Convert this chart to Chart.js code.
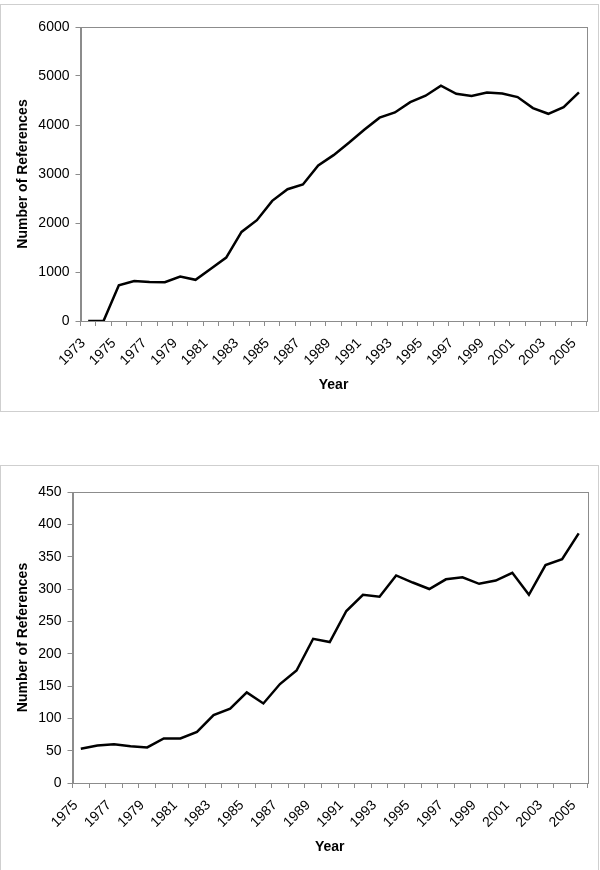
<!DOCTYPE html>
<html lang="en">
<head>
    <meta charset="UTF-8">
    <title>Number of References per Year</title>
    <script src="https://cdn.jsdelivr.net/npm/chart.js"></script>
    <style>
        body { margin: 0; background: #fff; width: 600px; height: 870px; position: relative; overflow: hidden; }
        .frame { position: absolute; left: 0; width: 597px; border: 1px solid #cfcfcf; }
        .box { position: absolute; left: 0; width: 600px; }
    </style>
</head>
<body>
    <div class="frame" style="top:4px; height:406px;"></div>
    <div class="frame" style="top:465px; height:420px;"></div>

    <div class="box" style="top:0; height:420px;"><canvas id="chartTop"></canvas></div>
    <div class="box" style="top:440px; height:430px;"><canvas id="chartBottom"></canvas></div>

    <script>
        // top chart: 1973 - 2005
        const yearsTop = [];
        for (let y = 1973; y <= 2005; y++) yearsTop.push(String(y));
        const refsTop = [0, 0, 729, 817, 795, 790, 906, 840, 1065, 1294, 1818, 2057, 2452, 2690, 2785, 3173,
                         3385, 3637, 3902, 4150, 4256, 4467, 4597, 4801, 4638, 4590, 4665, 4644, 4570, 4345,
                         4229, 4365, 4665];

        // bottom chart: 1975 - 2005
        const yearsBottom = [];
        for (let y = 1975; y <= 2005; y++) yearsBottom.push(String(y));
        const refsBottom = [53, 58, 60, 57, 55, 69, 69, 79, 105, 115, 140, 123, 153, 174, 223, 218,
                            266, 291, 288, 321, 310, 300, 315, 318, 308, 313, 325, 291, 337, 346, 386];

        const tickFont = { family: "'Liberation Sans', Arial, sans-serif", size: 14 };
        const titleFont = { family: "'Liberation Sans', Arial, sans-serif", size: 14, weight: 'bold' };
        const axisGray = '#8c8c8c';

        // gray box round the plot area
        const plotBorder = {
            id: 'plotBorder',
            afterDraw(chart) {
                const a = chart.chartArea, ctx = chart.ctx;
                ctx.save();
                ctx.strokeStyle = axisGray;
                ctx.lineWidth = 1;
                ctx.strokeRect(Math.round(a.left) + 0.5, Math.round(a.top) + 0.5,
                               Math.round(a.right - a.left), Math.round(a.bottom - a.top));
                ctx.restore();
            }
        };

        function makeChart(id, labels, values, yMax, yStep, pad, yWidth, xHeight) {
            return new Chart(document.getElementById(id), {
                type: 'line',
                data: {
                    labels: labels,
                    datasets: [{
                        data: values,
                        borderColor: '#000',
                        borderWidth: 2.5,
                        pointRadius: 0,
                        tension: 0,
                        fill: false
                    }]
                },
                options: {
                    responsive: true,
                    maintainAspectRatio: false,
                    animation: false,
                    layout: { padding: pad },
                    plugins: { legend: { display: false }, tooltip: { enabled: false } },
                    scales: {
                        x: {
                            offset: true,
                            grid: { offset: true, drawOnChartArea: false, tickLength: 5, color: axisGray },
                            border: { color: axisGray },
                            ticks: {
                                autoSkip: false,
                                minRotation: 45,
                                maxRotation: 45,
                                padding: 9,
                                labelOffset: -5,
                                color: '#000',
                                font: tickFont,
                                callback: (v, i) => i % 2 === 0 ? labels[i] : ''
                            },
                            title: { display: true, text: 'Year', color: '#000', font: titleFont },
                            afterFit: s => { s.height = xHeight; }
                        },
                        y: {
                            min: 0,
                            max: yMax,
                            grid: { drawOnChartArea: false, tickLength: 5, color: axisGray },
                            border: { color: axisGray },
                            ticks: { stepSize: yStep, padding: 6, color: '#000', font: tickFont, callback: v => String(v) },
                            title: { display: true, text: 'Number of References', color: '#000', font: titleFont },
                            afterFit: s => { s.width = yWidth; }
                        }
                    }
                },
                plugins: [plotBorder]
            });
        }

        makeChart('chartTop', yearsTop, refsTop, 6000, 1000,
                  { left: 11, top: 27, right: 11, bottom: 22 }, 69.5, 77);
        makeChart('chartBottom', yearsBottom, refsBottom, 450, 50,
                  { left: 11, top: 52, right: 13, bottom: 10 }, 61.5, 77);
    </script>
</body>
</html>
